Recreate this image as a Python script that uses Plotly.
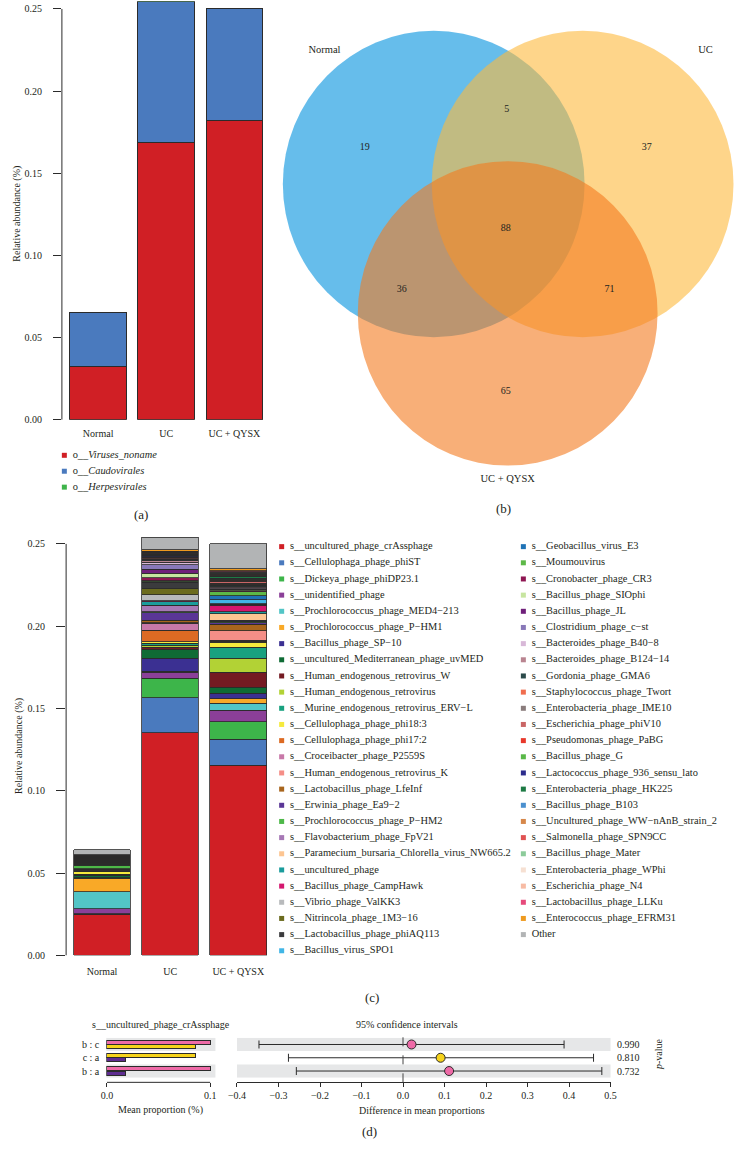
import plotly.graph_objects as go

W, H = 740, 1151
FONT = "Liberation Serif"
TXT = "#231F20"
LINE = "#2B2B2B"


def X(px):
    return px / W


def Y(py):
    return 1 - py / H


groups = ["Normal", "UC", "UC + QYSX"]

# ---------------- panel (a): order level ----------------
order_labels = ["Viruses_noname", "Caudovirales", "Herpesvirales"]
order_colors = ["#D01F25", "#4A7ABE", "#3FB44B"]
order_viruses_noname = [0.0322, 0.1685, 0.1820]
order_caudovirales = [0.0332, 0.0860, 0.0684]
order_herpesvirales = [0.0001, 0.0001, 0.0001]
order_values = [order_viruses_noname, order_caudovirales, order_herpesvirales]

# ---------------- panel (b): Venn ----------------
venn_sets = ["Normal", "UC", "UC + QYSX"]
venn_colors = ["rgb(0,145,222)", "rgb(253,185,60)", "rgb(243,122,30)"]
venn_regions = ["Normal only", "UC only", "UC + QYSX only", "Normal & UC",
                "Normal & UC + QYSX", "UC & UC + QYSX", "all three"]
venn_counts = [19, 37, 65, 5, 36, 71, 88]

# ---------------- panel (c): species level ----------------
species = [
    "s__uncultured_phage_crAssphage", "s__Cellulophaga_phage_phiST", "s__Dickeya_phage_phiDP23.1",
    "s__unidentified_phage", "s__Prochlorococcus_phage_MED4−213", "s__Prochlorococcus_phage_P−HM1",
    "s__Bacillus_phage_SP−10", "s__uncultured_Mediterranean_phage_uvMED", "s__Human_endogenous_retrovirus_W",
    "s__Human_endogenous_retrovirus", "s__Murine_endogenous_retrovirus_ERV−L", "s__Cellulophaga_phage_phi18:3",
    "s__Cellulophaga_phage_phi17:2", "s__Croceibacter_phage_P2559S", "s__Human_endogenous_retrovirus_K",
    "s__Lactobacillus_phage_LfeInf", "s__Erwinia_phage_Ea9−2", "s__Prochlorococcus_phage_P−HM2",
    "s__Flavobacterium_phage_FpV21", "s__Paramecium_bursaria_Chlorella_virus_NW665.2", "s__uncultured_phage",
    "s__Bacillus_phage_CampHawk", "s__Vibrio_phage_ValKK3", "s__Nitrincola_phage_1M3−16",
    "s__Lactobacillus_phage_phiAQ113", "s__Bacillus_virus_SPO1",
    "s__Geobacillus_virus_E3", "s__Moumouvirus", "s__Cronobacter_phage_CR3", "s__Bacillus_phage_SIOphi",
    "s__Bacillus_phage_JL", "s__Clostridium_phage_c−st", "s__Bacteroides_phage_B40−8",
    "s__Bacteroides_phage_B124−14", "s__Gordonia_phage_GMA6", "s__Staphylococcus_phage_Twort",
    "s__Enterobacteria_phage_IME10", "s__Escherichia_phage_phiV10", "s__Pseudomonas_phage_PaBG",
    "s__Bacillus_phage_G", "s__Lactococcus_phage_936_sensu_lato", "s__Enterobacteria_phage_HK225",
    "s__Bacillus_phage_B103", "s__Uncultured_phage_WW−nAnB_strain_2", "s__Salmonella_phage_SPN9CC",
    "s__Bacillus_phage_Mater", "s__Enterobacteria_phage_WPhi", "s__Escherichia_phage_N4",
    "s__Lactobacillus_phage_LLKu", "s__Enterococcus_phage_EFRM31", "Other",
]
species_colors = [
    "#D01F25", "#4A7ABE", "#3DB54A", "#8B3F98", "#52C5C6", "#F9A927", "#3B3092", "#0F6B35",
    "#741A22", "#B2D235", "#18A17F", "#F5EA3D", "#DC6A23", "#C878A8", "#F58E87", "#A8651D",
    "#5A3696", "#4DB848", "#A678B5", "#FDC591", "#1A9C9C", "#D4176E", "#B8BABC", "#6B6B1E",
    "#3B3B3D", "#41B6E6",
    "#1F73B6", "#5DB848", "#8E1652", "#C7E5A0", "#6F1F7A", "#8878B8", "#D8B8D8", "#B98490",
    "#2B4A4A", "#F06D4E", "#8A7C7C", "#C96565", "#E8382B", "#59B848", "#2C2C8C", "#1D7A44",
    "#4A90CF", "#D6874A", "#E05252", "#8CCB9A", "#F6E0D2", "#F7BBA4", "#E64A7B", "#EE9A1F",
    "#B2B4B5",
]
species_normal = [
    0.0249, 0.0003, 0.0003, 0.0030, 0.0103, 0.0080, 0.0003, 0.0012, 0.0003, 0.0003,
    0.0003, 0.0018, 0.0003, 0.0004, 0.0003, 0.0003, 0.0003, 0.0022, 0.0002, 0.0002,
    0.0002, 0.0002, 0.0002, 0.0002, 0.0003, 0.0002,
    0.0002, 0.0002, 0.0002, 0.0002, 0.0002, 0.0002, 0.0002, 0.0002, 0.0002, 0.0002,
    0.0002, 0.0002, 0.0002, 0.0002, 0.0002, 0.0002, 0.0002, 0.0002, 0.0002, 0.0002,
    0.0002, 0.0002, 0.0002, 0.0002, 0.0030,
]
species_uc = [
    0.1352, 0.0212, 0.0121, 0.0036, 0.0003, 0.0003, 0.0079, 0.0054, 0.0012, 0.0012,
    0.0012, 0.0010, 0.0071, 0.0040, 0.0004, 0.0016, 0.0046, 0.0004, 0.0037, 0.0004,
    0.0020, 0.0006, 0.0038, 0.0036, 0.0037, 0.0003,
    0.0003, 0.0004, 0.0020, 0.0026, 0.0026, 0.0026, 0.0016, 0.0010, 0.0005, 0.0003,
    0.0004, 0.0004, 0.0003, 0.0003, 0.0006, 0.0004, 0.0004, 0.0003, 0.0004, 0.0003,
    0.0003, 0.0004, 0.0004, 0.0008, 0.0077,
]
species_qysx = [
    0.1155, 0.0157, 0.0107, 0.0070, 0.0043, 0.0028, 0.0034, 0.0034, 0.0091, 0.0087,
    0.0066, 0.0030, 0.0007, 0.0007, 0.0057, 0.0040, 0.0008, 0.0008, 0.0008, 0.0040,
    0.0012, 0.0037, 0.0003, 0.0003, 0.0004, 0.0024,
    0.0026, 0.0024, 0.0006, 0.0004, 0.0005, 0.0004, 0.0004, 0.0008, 0.0008, 0.0005,
    0.0008, 0.0012, 0.0005, 0.0006, 0.0006, 0.0008, 0.0005, 0.0006, 0.0006, 0.0006,
    0.0005, 0.0005, 0.0006, 0.0011, 0.0151,
]
legend_left_count = 26

# ---------------- panel (d): STAMP-like comparison ----------------
stamp_feature = "s__uncultured_phage_crAssphage"
comparisons = ["b : c", "c : a", "b : a"]
comp_first = ["b", "c", "b"]
comp_second = ["c", "a", "a"]
group_mean = {"a": 0.0183, "b": 0.1000, "c": 0.0855}
group_color = {"a": "#5E2D91", "b": "#EE6AA7", "c": "#F6D31B"}
diff_mean = [0.0205, 0.0906, 0.1110]
ci_low = [-0.347, -0.276, -0.257]
ci_high = [0.388, 0.459, 0.479]
p_values = ["0.990", "0.810", "0.732"]

fig = go.Figure()

# ---- (a) stacked bars
for name, col, vals in zip(order_labels, order_colors, order_values):
    fig.add_trace(go.Bar(x=groups, y=vals, name=name, marker=dict(color=col, line=dict(color=LINE, width=1)),
                         xaxis="x", yaxis="y", showlegend=False))

# ---- (c) stacked bars
for name, col, v1, v2, v3 in zip(species, species_colors, species_normal, species_uc, species_qysx):
    fig.add_trace(go.Bar(x=groups, y=[v1, v2, v3], name=name,
                         marker=dict(color=col, line=dict(color=LINE, width=0.8)),
                         xaxis="x2", yaxis="y2", showlegend=False))

# ---- legends drawn on page-pixel axis (x5/y5)
def legend_block(names, colors, x_marker, y_start, step):
    ys = [y_start + step * i for i in range(len(names))]
    fig.add_trace(go.Scatter(x=[x_marker] * len(names), y=ys, mode="markers",
                             marker=dict(symbol="square", size=5, color=colors, line=dict(width=0)),
                             xaxis="x5", yaxis="y5", showlegend=False, hoverinfo="skip"))
    fig.add_trace(go.Scatter(x=[x_marker + 8.5] * len(names), y=ys, mode="text", text=names,
                             textposition="middle right",
                             textfont=dict(family=FONT, size=10.4, color=TXT),
                             xaxis="x5", yaxis="y5", showlegend=False, hoverinfo="skip"))

legend_block(["o__<i>%s</i>" % n for n in order_labels], order_colors, 56.5, 457.7, 16.0)
legend_block(species[:legend_left_count], species_colors[:legend_left_count], 278.3, 549.5, 16.25)
legend_block(species[legend_left_count:], species_colors[legend_left_count:], 525.0, 549.5, 16.25)

# ---- (b) Venn circles (layout geometry in page pixels)
venn_geom = [(433.5, 185.0, 154.0), (585.5, 185.0, 154.0), (509.0, 315.0, 153.0)]
shapes = []
for (cx, cy, r), col in zip(venn_geom, venn_colors):
    shapes.append(dict(type="circle", xref="x5", yref="y5", x0=cx - r, x1=cx + r, y0=cy - r, y1=cy + r,
                       fillcolor=col, opacity=0.6, line=dict(width=0), layer="below"))
venn_label_pos = [(363, 148), (651, 148), (507, 394), (508, 110), (401, 291), (613, 291), (507, 230)]
fig.add_trace(go.Scatter(x=[p[0] for p in venn_label_pos], y=[p[1] for p in venn_label_pos],
                         mode="text", text=[str(c) for c in venn_counts],
                         textfont=dict(family=FONT, size=10, color=TXT),
                         xaxis="x5", yaxis="y5", showlegend=False, hoverinfo="skip"))
venn_set_pos = [(322, 51), (711, 51), (509, 482)]
fig.add_trace(go.Scatter(x=[p[0] for p in venn_set_pos], y=[p[1] for p in venn_set_pos],
                         mode="text", text=venn_sets,
                         textfont=dict(family=FONT, size=10.5, color=TXT),
                         xaxis="x5", yaxis="y5", showlegend=False, hoverinfo="skip"))

# ---- (d) left: mean proportion bars
rows = [len(comparisons) - 1 - i for i in range(len(comparisons))]
off = 0.16
fig.add_trace(go.Bar(x=[group_mean[g] for g in comp_first], y=[r + off for r in rows], orientation="h",
                     width=0.3, marker=dict(color=[group_color[g] for g in comp_first], line=dict(color=LINE, width=1)),
                     xaxis="x3", yaxis="y3", showlegend=False))
fig.add_trace(go.Bar(x=[group_mean[g] for g in comp_second], y=[r - off for r in rows], orientation="h",
                     width=0.3, marker=dict(color=[group_color[g] for g in comp_second], line=dict(color=LINE, width=1)),
                     xaxis="x3", yaxis="y3", showlegend=False))

# ---- (d) right: difference with CI
fig.add_trace(go.Scatter(
    x=diff_mean, y=rows, mode="markers",
    marker=dict(size=9, color=[group_color[g] for g in comp_first], line=dict(color=LINE, width=1)),
    error_x=dict(type="data", symmetric=False,
                 array=[h - d for h, d in zip(ci_high, diff_mean)],
                 arrayminus=[d - l for d, l in zip(diff_mean, ci_low)],
                 color=LINE, thickness=1, width=4),
    xaxis="x4", yaxis="y4", showlegend=False))

# bands
for r in rows:
    if (len(comparisons) - 1 - r) % 2 == 0:
        for xr, yr in (("x3 domain", "y3"), ("x4 domain", "y4")):
            shapes.append(dict(type="rect", xref=xr, yref=yr, x0=0, x1=1, y0=r - 0.5, y1=r + 0.5,
                               fillcolor="#E6E7E8", line=dict(width=0), layer="below"))
# y-axis lines for (a), (c)
shapes.append(dict(type="line", xref="x domain", yref="y", x0=0, x1=0, y0=0, y1=0.25,
                   line=dict(color=LINE, width=1)))
shapes.append(dict(type="line", xref="x2 domain", yref="y2", x0=0, x1=0, y0=0, y1=0.25,
                   line=dict(color=LINE, width=1)))
# axis line of (d) left
shapes.append(dict(type="line", xref="x3", yref="paper", x0=0, x1=0.1, y0=Y(1088), y1=Y(1088),
                   line=dict(color=LINE, width=1)))
# zero dashed line
shapes.append(dict(type="line", xref="x4", yref="paper", x0=0, x1=0, y0=Y(1088), y1=Y(1036),
                   line=dict(color="#444444", width=1, dash="dash")))

def ann(text, x, y, size=10, angle=0, xanchor="center"):
    return dict(text=text, x=X(x), y=Y(y), xref="paper", yref="paper", showarrow=False,
                textangle=angle, xanchor=xanchor, yanchor="middle",
                font=dict(family=FONT, size=size, color=TXT))

annotations = [
    ann("(a)", 135, 517, 13), ann("(b)", 505, 511, 13), ann("(c)", 370, 1003, 13), ann("(d)", 368, 1137, 13),
    ann("Relative abundance (%)", 8, 215, 10, -90), ann("Relative abundance (%)", 10, 750, 10, -90),
    ann(stamp_feature, 155, 1030, 10), ann("95% confidence intervals", 406, 1030, 10),
    ann("Mean proportion (%)", 155, 1116, 10), ann("Difference in mean proportions", 422, 1116, 10),
    ann("<i>p</i>-value", 663, 1060, 10, -90),
]
for r, p in zip(rows, p_values):
    annotations.append(dict(text=p, x=X(619), y=r, xref="paper", yref="y4", showarrow=False,
                            xanchor="left", yanchor="middle", font=dict(family=FONT, size=10, color=TXT)))

tf = dict(family=FONT, size=10, color=TXT)
base = dict(showgrid=False, zeroline=False, tickfont=tf, linecolor=LINE, tickcolor=LINE, linewidth=1, tickwidth=1)
ytick = [0, 0.05, 0.10, 0.15, 0.20, 0.25]

fig.update_layout(
    width=W, height=H, autosize=False, margin=dict(l=0, r=0, t=0, b=0),
    paper_bgcolor="white", plot_bgcolor="rgba(0,0,0,0)",
    barmode="stack", bargap=0.17, showlegend=False, hovermode=False,
    font=dict(family=FONT, size=10, color=TXT),
    xaxis=dict(domain=[X(54), X(264.75)], range=[-0.532, 2.5], anchor="y", ticks="", showline=False,
               ticklabelstandoff=6, **base),
    yaxis=dict(domain=[Y(422), Y(422 - 0.2546 * 1652)], range=[0, 0.2546], anchor="x", ticks="outside",
               ticklen=8, tickvals=ytick, tickformat=".2f", ticklabelstandoff=9, showline=False, **base),
    xaxis2=dict(domain=[X(58.3), X(268.75)], range=[-0.528, 2.5], anchor="y2", ticks="", showline=False,
                ticklabelstandoff=9, **base),
    yaxis2=dict(domain=[Y(960.5), Y(960.5 - 0.2546 * 1655)], range=[0, 0.2546], anchor="x2", ticks="outside",
                ticklen=9, tickvals=ytick, tickformat=".2f", ticklabelstandoff=9, showline=False, **base),
    xaxis3=dict(domain=[X(99.3), X(210.7)], range=[-0.00066, 0.1051], anchor="free", position=Y(1088),
                tickvals=[0, 0.1], ticktext=["0.0", "0.1"], ticks="outside", ticklen=4, showline=False, **base),
    yaxis3=dict(domain=[Y(1083.3), Y(1043.3)], range=[-0.5, 2.5], anchor="x3", tickvals=rows,
                ticktext=comparisons, ticks="", showline=False, ticklabelstandoff=6, **base),
    xaxis4=dict(domain=[X(232.7), X(614)], range=[-0.4, 0.5], anchor="free", position=Y(1088),
                tick0=-0.4, dtick=0.1, tickformat=".1f", ticks="outside", ticklen=4, showline=True, **base),
    yaxis4=dict(domain=[Y(1083.3), Y(1043.3)], range=[-0.5, 2.5], anchor="x4", showticklabels=False,
                ticks="", showline=False, **base),
    xaxis5=dict(domain=[0, 1], range=[0, W], anchor="y5", visible=False, showgrid=False, zeroline=False),
    yaxis5=dict(domain=[0, 1], range=[H, 0], anchor="x5", visible=False, showgrid=False, zeroline=False),
    shapes=shapes, annotations=annotations,
)

fig.write_html("out.html", config={"displayModeBar": False, "staticPlot": True},
               post_script="document.body.style.margin='0';document.body.style.overflow='hidden';")
